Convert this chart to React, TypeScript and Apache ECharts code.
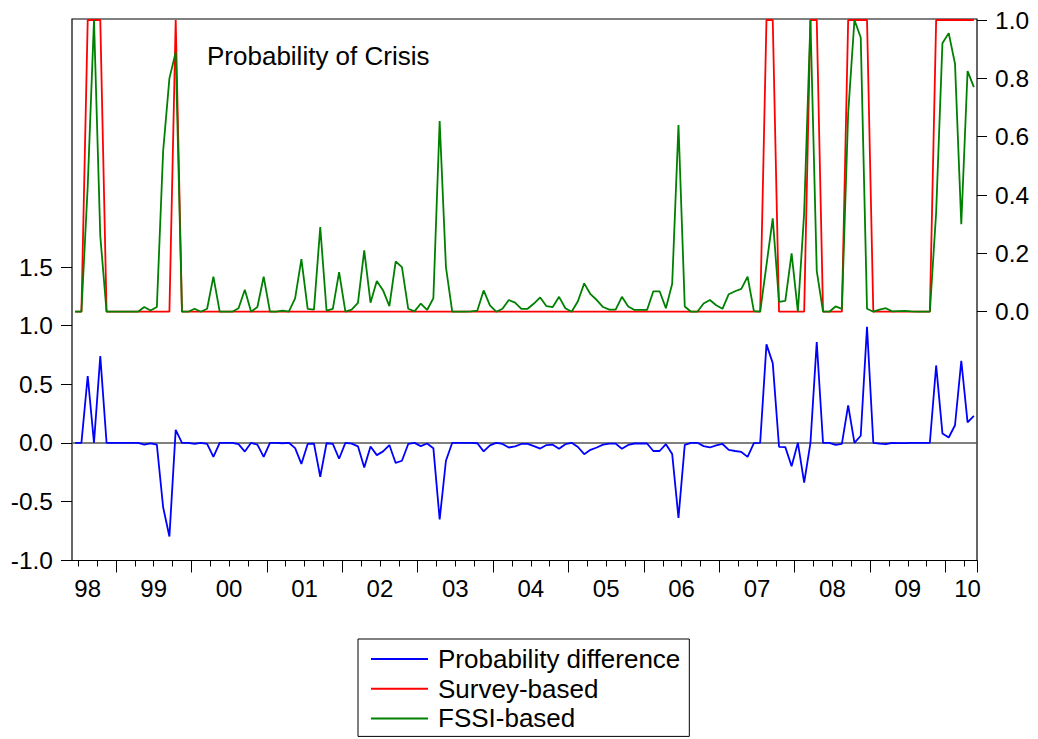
import React, { useEffect, useRef } from 'react';
import * as echarts from 'echarts';

// Monthly observations, 1998M06 .. 2010M05
const START_YEAR = 1998;
const START_MONTH = 6;
const N_OBS = 144;
const months: string[] = [];
for (let k = 0; k < N_OBS; k++) {
  const m0 = START_MONTH - 1 + k;
  const y = START_YEAR + Math.floor(m0 / 12);
  const m = (m0 % 12) + 1;
  months.push(`${y}M${String(m).padStart(2, '0')}`);
}

const yearLabels = ['98', '99', '00', '01', '02', '03', '04', '05', '06', '07', '08', '09', '10'];
const leftTicks = ['-1.0', '-0.5', '0.0', '0.5', '1.0', '1.5'];
const rightTicks = ['0.0', '0.2', '0.4', '0.6', '0.8', '1.0'];

const surveyBased = [
  0, 0, 1, 1, 1, 0, 0, 0, 0, 0, 0, 0,
  0, 0, 0, 0, 1, 0, 0, 0, 0, 0, 0, 0,
  0, 0, 0, 0, 0, 0, 0, 0, 0, 0, 0, 0,
  0, 0, 0, 0, 0, 0, 0, 0, 0, 0, 0, 0,
  0, 0, 0, 0, 0, 0, 0, 0, 0, 0, 0, 0,
  0, 0, 0, 0, 0, 0, 0, 0, 0, 0, 0, 0,
  0, 0, 0, 0, 0, 0, 0, 0, 0, 0, 0, 0,
  0, 0, 0, 0, 0, 0, 0, 0, 0, 0, 0, 0,
  0, 0, 0, 0, 0, 0, 0, 0, 0, 0, 0, 0,
  0, 0, 1, 1, 0, 0, 0, 0, 0, 1, 1, 0,
  0, 0, 0, 1, 1, 1, 1, 0, 0, 0, 0, 0,
  0, 0, 0, 0, 0, 1, 1, 1, 1, 1, 1, 1,
];

const fssiBased = [
  0, 0, 0.43, 1.0, 0.26, 0, 0, 0, 0, 0, 0, 0.016,
  0.004, 0.016, 0.55, 0.80, 0.89, 0, 0, 0.01, 0, 0.01, 0.12, 0,
  0, 0, 0.012, 0.075, 0, 0.016, 0.12, 0, 0, 0.004, 0, 0.046,
  0.18, 0.01, 0.007, 0.29, 0.004, 0.01, 0.136, 0, 0.007, 0.03, 0.21, 0.031,
  0.105, 0.073, 0.019, 0.172, 0.153, 0.01, 0.001, 0.028, 0.006, 0.046, 0.654, 0.153,
  0, 0, 0, 0.001, 0.004, 0.073, 0.022, 0, 0.01, 0.04, 0.031, 0.01,
  0.01, 0.028, 0.049, 0.019, 0.016, 0.051, 0.012, 0, 0.036, 0.097, 0.06, 0.04,
  0.016, 0.007, 0.007, 0.051, 0.018, 0.006, 0.006, 0.006, 0.07, 0.07, 0.012, 0.096,
  0.64, 0.018, 0, 0, 0.028, 0.04, 0.022, 0.01, 0.06, 0.07, 0.078, 0.12,
  0.002, 0, 0.16, 0.32, 0.034, 0.037, 0.2, 0, 0.34, 1.0, 0.14, 0,
  0, 0.018, 0.01, 0.68, 1.0, 0.94, 0.01, 0, 0.007, 0.012, 0.001, 0.002,
  0.003, 0.001, 0, 0, 0, 0.34, 0.92, 0.955, 0.85, 0.30, 0.825, 0.77,
];

const probDifference = [
  0, 0, 0.57, 0, 0.74, 0, 0, 0, 0, 0, 0, -0.016,
  -0.004, -0.016, -0.55, -0.80, 0.11, 0, 0, -0.01, 0, -0.01, -0.12, 0,
  0, 0, -0.012, -0.075, 0, -0.016, -0.12, 0, 0, -0.004, 0, -0.046,
  -0.18, -0.01, -0.007, -0.29, -0.004, -0.01, -0.136, 0, -0.007, -0.03, -0.21, -0.031,
  -0.105, -0.073, -0.019, -0.172, -0.153, -0.01, -0.001, -0.028, -0.006, -0.046, -0.654, -0.153,
  0, 0, 0, -0.001, -0.004, -0.073, -0.022, 0, -0.01, -0.04, -0.031, -0.01,
  -0.01, -0.028, -0.049, -0.019, -0.016, -0.051, -0.012, 0, -0.036, -0.097, -0.06, -0.04,
  -0.016, -0.007, -0.007, -0.051, -0.018, -0.006, -0.006, -0.006, -0.07, -0.07, -0.012, -0.096,
  -0.64, -0.018, 0, 0, -0.028, -0.04, -0.022, -0.01, -0.06, -0.07, -0.078, -0.12,
  -0.002, 0, 0.84, 0.68, -0.034, -0.037, -0.2, 0, -0.34, 0, 0.86, 0,
  0, -0.018, -0.01, 0.32, 0, 0.06, 0.99, 0, -0.007, -0.012, -0.001, -0.002,
  -0.003, -0.001, 0, 0, 0, 0.66, 0.08, 0.045, 0.15, 0.70, 0.175, 0.23,
];

const FONT = "'Liberation Sans', Arial, Helvetica, sans-serif";

function monthOf(idx: number) {
  return (START_MONTH - 1 + idx) % 12; // 0 = Jan
}
function yearOf(idx: number) {
  return START_YEAR + Math.floor((START_MONTH - 1 + idx) / 12);
}
// where each year label sits (category index) and whether it is mid-year
function yearLabelFor(idx: number): string | null {
  const y = yearOf(idx);
  const m = monthOf(idx);
  const lbl = yearLabels[y - START_YEAR];
  if (idx === 2) return lbl; // partial first year
  if (idx === N_OBS - 2) return lbl; // partial last year
  if (m === 6 && y > START_YEAR && y < START_YEAR + 12) return `{m|${lbl}}`;
  return null;
}

const GRID_LEFT = 72;
const GRID_WIDTH = 905;

export default function App() {
  const ref = useRef<HTMLDivElement>(null);
  useEffect(() => {
    document.body.style.margin = '0';
    const chart = echarts.init(ref.current!, null, { renderer: 'svg' });
    const hiddenX = (gridIndex: number) => ({
      type: 'category' as const,
      gridIndex,
      data: months,
      boundaryGap: true,
      show: false,
    });
    chart.setOption({
      animation: false,
      backgroundColor: '#ffffff',
      textStyle: { fontFamily: FONT },
      title: {
        text: 'Probability of Crisis',
        left: 207,
        top: 43,
        padding: 0,
        textStyle: { fontFamily: FONT, fontSize: 26, fontWeight: 'normal', color: '#000' },
      },
      legend: {
        orient: 'vertical',
        left: 358,
        top: 639,
        padding: [7, 9, 5, 13],
        itemGap: 3.7,
        itemWidth: 57,
        itemHeight: 2,
        icon: 'rect',
        borderColor: '#000',
        borderWidth: 1,
        data: ['Probability difference', 'Survey-based', 'FSSI-based'],
        formatter: (name: string) => `{t|${name}}`,
        textStyle: {
          fontFamily: FONT,
          fontSize: 26,
          color: '#000',
          rich: { t: { fontFamily: FONT, fontSize: 26, padding: [0, 0, 0, 5], color: '#000' } },
        },
      },
      grid: [
        { left: GRID_LEFT, width: GRID_WIDTH, top: 19, height: 541.5, show: true, borderColor: '#000', borderWidth: 1.2, backgroundColor: 'transparent' },
        { left: GRID_LEFT, width: GRID_WIDTH, top: 267, height: 293 },
        { left: GRID_LEFT, width: GRID_WIDTH, top: 20, height: 291.7 },
      ],
      xAxis: [
        {
          type: 'category',
          gridIndex: 0,
          position: 'bottom',
          data: months,
          boundaryGap: true,
          axisLine: { show: false },
          axisTick: {
            show: true,
            length: 6,
            interval: (i: number) => monthOf(i) % 3 === 0,
            lineStyle: { color: '#000', width: 1 },
          },
          axisLabel: { show: false },
        },
        {
          type: 'category',
          gridIndex: 0,
          position: 'bottom',
          data: months,
          boundaryGap: true,
          axisLine: { show: false },
          axisTick: {
            show: true,
            length: 12,
            interval: (i: number) => monthOf(i) === 0,
            lineStyle: { color: '#000', width: 1 },
          },
          axisLabel: {
            show: true,
            margin: 15.5,
            interval: (i: number) => yearLabelFor(i) !== null,
            formatter: (_v: string, i: number) => yearLabelFor(i) || '',
            fontFamily: FONT,
            fontSize: 24,
            color: '#000',
            rich: { m: { padding: [0, 6.3, 0, 0], fontFamily: FONT, fontSize: 24, color: '#000' } },
          },
        },
        {
          type: 'category',
          gridIndex: 1,
          data: months,
          boundaryGap: true,
          axisLine: { show: true, onZero: true, lineStyle: { color: '#555', width: 1.5 } },
          axisTick: { show: false },
          axisLabel: { show: false },
        },
        hiddenX(2),
      ],
      yAxis: [
        { type: 'value', gridIndex: 0, min: 0, max: 1, show: false },
        {
          type: 'value',
          gridIndex: 1,
          position: 'left',
          min: -1,
          max: 1.5,
          interval: 0.5,
          splitLine: { show: false },
          axisLine: { show: false },
          axisTick: { show: true, length: 11, lineStyle: { color: '#000', width: 1 } },
          axisLabel: {
            margin: 19,
            fontFamily: FONT,
            fontSize: 24.5,
            color: '#000',
            formatter: (v: number) => leftTicks[Math.round((v + 1) / 0.5)] ?? v.toFixed(1),
          },
        },
        {
          type: 'value',
          gridIndex: 2,
          position: 'right',
          min: 0,
          max: 1,
          interval: 0.2,
          splitLine: { show: false },
          axisLine: { show: false },
          axisTick: { show: true, length: 10, lineStyle: { color: '#000', width: 1 } },
          axisLabel: {
            margin: 18,
            fontFamily: FONT,
            fontSize: 24.5,
            color: '#000',
            formatter: (v: number) => rightTicks[Math.round(v / 0.2)] ?? v.toFixed(1),
          },
        },
      ],
      series: [
        {
          name: 'Probability difference',
          type: 'line',
          xAxisIndex: 2,
          yAxisIndex: 1,
          data: probDifference,
          symbol: 'none',
          clip: false,
          color: '#0000ff',
          lineStyle: { color: '#0000ff', width: 1.8 },
        },
        {
          name: 'Survey-based',
          type: 'line',
          xAxisIndex: 3,
          yAxisIndex: 2,
          data: surveyBased,
          symbol: 'none',
          clip: false,
          color: '#ff0000',
          lineStyle: { color: '#ff0000', width: 1.8 },
        },
        {
          name: 'FSSI-based',
          type: 'line',
          xAxisIndex: 3,
          yAxisIndex: 2,
          data: fssiBased,
          symbol: 'none',
          clip: false,
          color: '#008000',
          lineStyle: { color: '#008000', width: 1.8 },
        },
      ],
    });
    return () => chart.dispose();
  }, []);
  return <div ref={ref} style={{ width: 1038, height: 739 }} />;
}
